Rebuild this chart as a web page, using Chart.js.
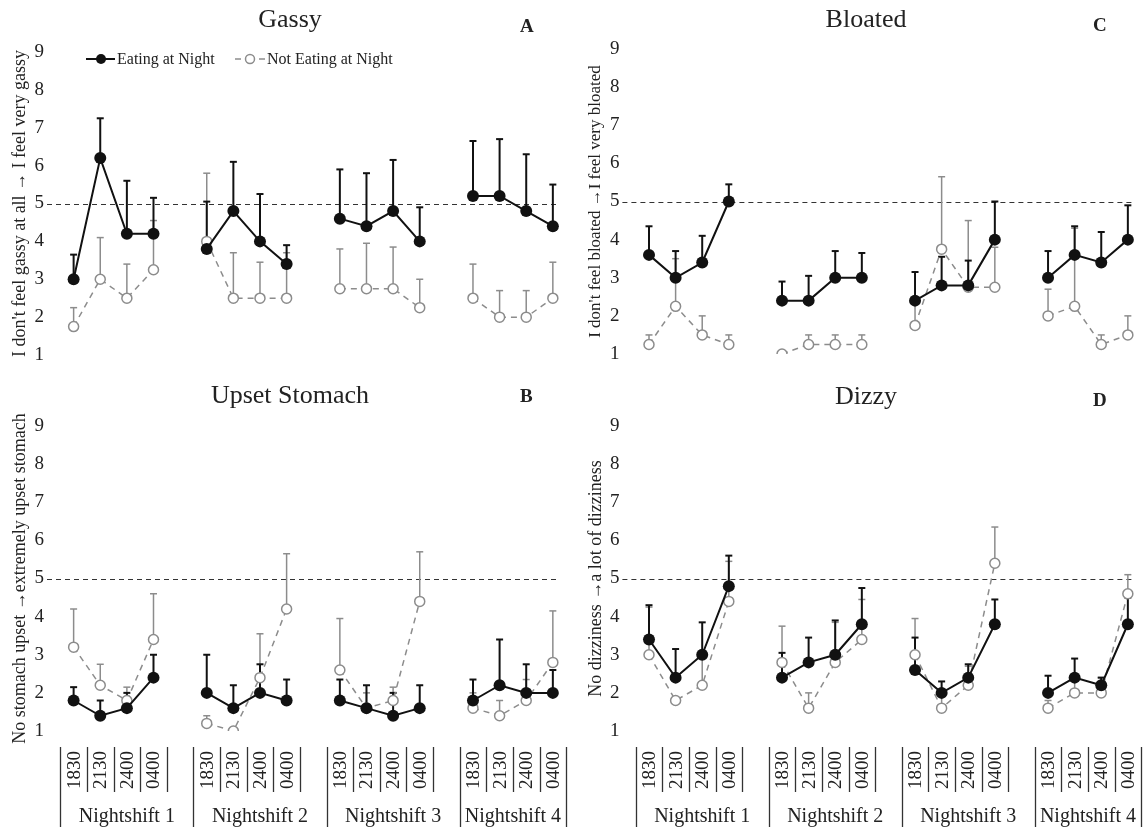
<!DOCTYPE html>
<html>
<head>
<meta charset="utf-8">
<script src="https://cdn.jsdelivr.net/npm/chart.js@4.4.1/dist/chart.umd.min.js"></script>
<style>
  body { margin: 0; background: #fff; }
  #wrap { position: relative; width: 1145px; height: 827px; overflow: hidden; font-family: "Liberation Serif", serif; color: #222; }
  canvas { position: absolute; }
  .ttl { position: absolute; width: 300px; font-size: 26px; line-height: 30px; text-align: center; }
  .lt { position: absolute; font-size: 19px; line-height: 20px; font-weight: bold; }
</style>
</head>
<body>
<div id="wrap">
  <canvas id="cA" width="572" height="372" style="left:0;top:0"></canvas>
  <canvas id="cC" width="573" height="372" style="left:572px;top:0"></canvas>
  <canvas id="cB" width="572" height="455" style="left:0;top:372px"></canvas>
  <canvas id="cD" width="573" height="455" style="left:572px;top:372px"></canvas>

  <div class="ttl" style="left:140px;top:4px">Gassy</div>
  <div class="ttl" style="left:716px;top:4px">Bloated</div>
  <div class="ttl" style="left:140px;top:380px">Upset Stomach</div>
  <div class="ttl" style="left:716px;top:381px">Dizzy</div>
  <div class="lt" style="left:520px;top:16px">A</div>
  <div class="lt" style="left:1093px;top:15px">C</div>
  <div class="lt" style="left:520px;top:386px">B</div>
  <div class="lt" style="left:1093px;top:390px">D</div>
</div>

<script>
// categories
const times = ['1830', '2130', '2400', '0400'];
const shifts = ['Nightshift 1', 'Nightshift 2', 'Nightshift 3', 'Nightshift 4'];
const yTicks = [1, 2, 3, 4, 5, 6, 7, 8, 9];
const cutoff = 5;

// Gassy (A)
const gassyEat    = [3.0, 6.2, 4.2, 4.2,  3.8, 4.8, 4.0, 3.4,  4.6, 4.4, 4.8, 4.0,  5.2, 5.2, 4.8, 4.4];
const gassyEatTop = [3.65, 7.25, 5.6, 5.15, 5.05, 6.1, 5.25, 3.9, 5.9, 5.8, 6.15, 4.9, 6.65, 6.7, 6.3, 5.5];
const gassyNot    = [1.75, 3.0, 2.5, 3.25, 4.0, 2.5, 2.5, 2.5,  2.75, 2.75, 2.75, 2.25, 2.5, 2.0, 2.0, 2.5];
const gassyNotTop = [2.25, 4.1, 3.4, 4.55, 5.8, 3.7, 3.45, 3.7, 3.8, 3.95, 3.85, 3.0, 3.4, 2.7, 2.7, 3.45];

// Bloated (C)
const bloatEat    = [3.6, 3.0, 3.4, 5.0,  2.4, 2.4, 3.0, 3.0,  2.4, 2.8, 2.8, 4.0,  3.0, 3.6, 3.4, 4.0];
const bloatEatTop = [4.35, 3.7, 4.1, 5.45, 2.9, 3.05, 3.7, 3.65, 3.15, 3.55, 3.45, 5.0, 3.7, 4.35, 4.2, 4.9];
const bloatNot    = [1.25, 2.25, 1.5, 1.25, 1.0, 1.25, 1.25, 1.25, 1.75, 3.75, 2.75, 2.75, 2.0, 2.25, 1.25, 1.5];
const bloatNotTop = [1.5, 3.5, 2.0, 1.5,  1.0, 1.5, 1.5, 1.5,  2.4, 5.65, 4.5, 3.8,  2.7, 4.3, 1.5, 2.0];

// Upset stomach (B)
const upsetEat    = [1.8, 1.4, 1.6, 2.4,  2.0, 1.6, 2.0, 1.8,  1.8, 1.6, 1.4, 1.6,  1.8, 2.2, 2.0, 2.0];
const upsetEatTop = [2.15, 1.8, 2.0, 3.0, 3.0, 2.2, 2.75, 2.35, 2.35, 2.2, 2.0, 2.2, 2.35, 3.4, 2.75, 2.6];
const upsetNot    = [3.2, 2.2, 1.8, 3.4,  1.2, 1.0, 2.4, 4.2,  2.6, 1.6, 1.8, 4.4,  1.6, 1.4, 1.8, 2.8];
const upsetNotTop = [4.2, 2.75, 2.15, 4.6, 1.4, 1.0, 3.55, 5.65, 3.95, 2.0, 2.15, 5.7, 2.0, 1.8, 2.35, 4.15];

// Dizzy (D)
const dizzyEat    = [3.4, 2.4, 3.0, 4.8,  2.4, 2.8, 3.0, 3.8,  2.6, 2.0, 2.4, 3.8,  2.0, 2.4, 2.2, 3.8];
const dizzyEatTop = [4.3, 3.15, 3.85, 5.6, 3.05, 3.45, 3.9, 4.75, 3.45, 2.3, 2.75, 4.45, 2.45, 2.9, 2.4, 4.5];
const dizzyNot    = [3.0, 1.8, 2.2, 4.4,  2.8, 1.6, 2.8, 3.4,  3.0, 1.6, 2.2, 5.4,  1.6, 2.0, 2.0, 4.6];
const dizzyNotTop = [4.25, 1.8, 3.0, 5.45, 3.75, 2.0, 3.85, 4.45, 3.95, 1.9, 2.7, 6.35, 1.8, 2.4, 2.4, 5.1];

const serif = '"Liberation Serif", "Times New Roman", serif';
const BLACK = '#111';
const GREY = '#8c8c8c';

// position on the x scale: 4 times per shift, one empty slot between shifts
function xOf(i) { return Math.floor(i / 4) * 5 + (i % 4); }

function pts(vals) {
  const out = [];
  vals.forEach((v, i) => {
    if (i > 0 && i % 4 === 0) out.push({ x: xOf(i) - 1, y: null });
    out.push({ x: xOf(i), y: v });
  });
  return out;
}

function line(ctx, x1, y1, x2, y2) {
  ctx.beginPath(); ctx.moveTo(x1, y1); ctx.lineTo(x2, y2); ctx.stroke();
}

// dashed line at the cut-off value
const refLine = {
  id: 'refLine',
  beforeDatasetsDraw(chart) {
    const { ctx, chartArea, scales: { y } } = chart;
    const py = Math.round(y.getPixelForValue(cutoff)) + 0.5;
    ctx.save();
    ctx.strokeStyle = '#333'; ctx.lineWidth = 1; ctx.setLineDash([5, 4]);
    line(ctx, chartArea.left, py, chartArea.right, py);
    ctx.restore();
  }
};

// upper error bars
const errorBars = {
  id: 'errorBars',
  beforeDatasetsDraw(chart) {
    const { ctx, scales: { x, y } } = chart;
    chart.data.datasets.slice().reverse().forEach(ds => {
      ctx.save();
      ctx.strokeStyle = ds.errColor; ctx.lineWidth = ds.errWidth;
      ds.means.forEach((m, i) => {
        const px = x.getPixelForValue(xOf(i));
        const p0 = y.getPixelForValue(m), p1 = y.getPixelForValue(ds.tops[i]);
        if (p1 >= p0) return;
        line(ctx, px, p0, px, p1);
        line(ctx, px - 3.5, p1, px + 3.5, p1);
      });
      ctx.restore();
    });
  }
};

// legend in panel A
const legendA = {
  id: 'legendA',
  afterDraw(chart) {
    const ctx = chart.ctx, ly = 59;
    ctx.save();
    ctx.strokeStyle = BLACK; ctx.lineWidth = 2;
    line(ctx, 86, ly, 115, ly);
    ctx.fillStyle = BLACK;
    ctx.beginPath(); ctx.arc(101, ly, 5, 0, Math.PI * 2); ctx.fill();
    ctx.strokeStyle = GREY; ctx.lineWidth = 1.5;
    line(ctx, 235, ly, 241, ly);
    line(ctx, 259, ly, 265, ly);
    ctx.fillStyle = '#fff';
    ctx.beginPath(); ctx.arc(250, ly, 4.5, 0, Math.PI * 2); ctx.fill(); ctx.stroke();
    ctx.fillStyle = '#222';
    ctx.font = '16px ' + serif; ctx.textBaseline = 'middle';
    ctx.fillText('Eating at Night', 117, ly + 1);
    ctx.fillText('Not Eating at Night', 267, ly + 1);
    ctx.restore();
  }
};

// time / nightshift boxes below the bottom panels
const shiftAxis = {
  id: 'shiftAxis',
  afterDraw(chart) {
    const { ctx, scales: { x } } = chart;
    const h = chart.height, top = 375, shortBot = 420, mid = 398;
    ctx.save();
    ctx.strokeStyle = '#333'; ctx.lineWidth = 1.3; ctx.fillStyle = '#222';
    shifts.forEach((name, s) => {
      times.forEach((lab, t) => {
        const lx = Math.round(x.getPixelForValue(s * 5 + t - 0.5)) + 0.5;
        line(ctx, lx, top, lx, t === 0 ? h : shortBot);
        ctx.save();
        ctx.translate(x.getPixelForValue(s * 5 + t), mid);
        ctx.rotate(-Math.PI / 2);
        ctx.font = '19px ' + serif; ctx.textAlign = 'center'; ctx.textBaseline = 'middle';
        ctx.fillText(lab, 0, 1);
        ctx.restore();
      });
      const rx = Math.round(x.getPixelForValue(s * 5 + 3.5)) + 0.5;
      line(ctx, rx, top, rx, s === 3 ? h : shortBot);
      const cx = s === 3 ? x.getPixelForValue(16.5) : x.getPixelForValue(s * 5 + 2);
      ctx.font = '20px ' + serif; ctx.textAlign = 'center'; ctx.textBaseline = 'alphabetic';
      ctx.fillText(name, cx, 450);
    });
    ctx.restore();
  }
};

function makeChart(id, eat, eatTop, not, notTop, yTitle, cfg) {
  return new Chart(document.getElementById(id), {
    type: 'line',
    data: {
      datasets: [
        { label: 'Eating at Night', data: pts(eat), means: eat, tops: eatTop,
          errColor: BLACK, errWidth: 2,
          borderColor: BLACK, borderWidth: 2, tension: 0, spanGaps: false,
          pointRadius: 6, pointBackgroundColor: BLACK, pointBorderColor: BLACK, pointBorderWidth: 0 },
        { label: 'Not Eating at Night', data: pts(not), means: not, tops: notTop,
          errColor: GREY, errWidth: 1.5,
          borderColor: GREY, borderWidth: 1.5, borderDash: [6, 5], tension: 0, spanGaps: false,
          pointRadius: 5, pointBackgroundColor: '#fff', pointBorderColor: GREY, pointBorderWidth: 1.5 }
      ]
    },
    options: {
      responsive: false,
      animation: false,
      events: [],
      layout: { padding: cfg.pad },
      plugins: { legend: { display: false }, tooltip: { enabled: false } },
      scales: {
        x: { type: 'linear', min: -1, max: 18.25, display: false },
        y: {
          min: yTicks[0], max: yTicks[yTicks.length - 1],
          afterBuildTicks(s) { s.ticks = yTicks.map(v => ({ value: v })); },
          ticks: { font: { family: serif, size: 19 }, color: '#222', padding: 3 },
          grid: { display: false, drawTicks: false },
          border: { display: false },
          title: { display: true, text: yTitle, color: '#222',
                   font: { family: serif, size: cfg.tsize }, padding: { top: cfg.tpad, bottom: 0 } },
          afterFit(s) { s.width = cfg.axisW; }
        }
      }
    },
    plugins: [refLine, errorBars].concat(cfg.extra || [])
  });
}

makeChart('cA', gassyEat, gassyEatTop, gassyNot, gassyNotTop,
  'I don\'t feel gassy at all \u2192 I feel very gassy',
  { pad: { left: 0, top: 52, right: 12.5, bottom: 17 }, axisW: 47, tsize: 18, tpad: 9, extra: [legendA] });

makeChart('cC', bloatEat, bloatEatTop, bloatNot, bloatNotTop,
  'I don\'t feel bloated \u2192I feel very bloated',
  { pad: { left: 0, top: 49, right: 10.5, bottom: 18 }, axisW: 50.4, tsize: 17, tpad: 13 });

makeChart('cB', upsetEat, upsetEatTop, upsetNot, upsetNotTop,
  'No stomach upset \u2192extremely upset stomach',
  { pad: { left: 0, top: 54, right: 12.5, bottom: 96 }, axisW: 47, tsize: 18, tpad: 9, extra: [shiftAxis] });

makeChart('cD', dizzyEat, dizzyEatTop, dizzyNot, dizzyNotTop,
  'No dizziness \u2192a lot of dizziness',
  { pad: { left: 0, top: 54, right: 10.5, bottom: 96 }, axisW: 50.4, tsize: 18, tpad: 13, extra: [shiftAxis] });
</script>
</body>
</html>
